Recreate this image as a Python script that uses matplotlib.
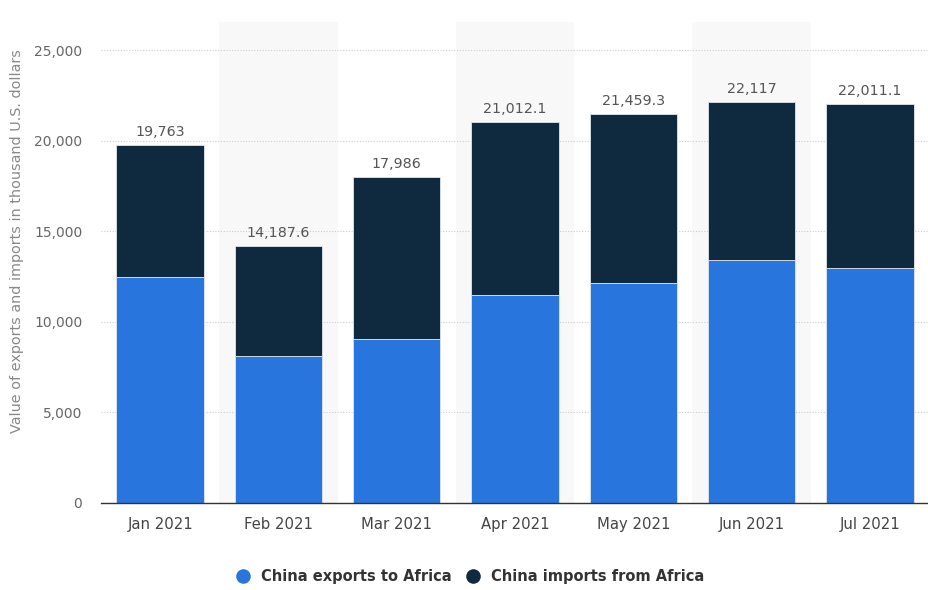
import matplotlib.pyplot as plt
from matplotlib.lines import Line2D
import numpy as np

plt.rcParams['font.family'] = ['DejaVu Sans']

# Data (thousand U.S. dollars)
months = ['Jan 2021', 'Feb 2021', 'Mar 2021', 'Apr 2021', 'May 2021', 'Jun 2021', 'Jul 2021']
totals = [19763, 14187.6, 17986, 21012.1, 21459.3, 22117, 22011.1]
totals_labels = ['19,763', '14,187.6', '17,986', '21,012.1', '21,459.3', '22,117', '22,011.1']
exports = [12480, 8110, 9050, 11480, 12140, 13410, 12970]
imports = [t - e for t, e in zip(totals, exports)]

c_exp = '#2876dd'
c_imp = '#0f2a3f'

fig = plt.figure(figsize=(9.29, 5.90), dpi=100)
ax = fig.add_axes([101/929, 87/590, 828/929, 481/590])

x = np.arange(len(months))

# alternating background bands
for i in x:
    if i % 2 == 1:
        ax.axvspan(i - 0.5, i + 0.5, color='#f8f8f8', zorder=0, lw=0)

ax.bar(x, exports, width=0.74, color=c_exp, edgecolor='#dfe6ee', linewidth=0.6, zorder=3)
ax.bar(x, imports, width=0.74, bottom=exports, color=c_imp, edgecolor='#dfe6ee', linewidth=0.6, zorder=3)

for xi, t, lab in zip(x, totals, totals_labels):
    ax.text(xi, t + 350, lab, ha='center', va='bottom', fontsize=10.3, color='#555555', zorder=4)

ax.set_xlim(-0.5, 6.5)
ax.set_ylim(0, 26550)
ax.set_yticks([0, 5000, 10000, 15000, 20000, 25000])
ax.set_yticklabels(['0', '5,000', '10,000', '15,000', '20,000', '25,000'])
ax.set_xticks(x)
ax.set_xticklabels(months)

ax.yaxis.grid(True, linestyle=(0, (1, 1.5)), color='#cccccc', linewidth=0.8, zorder=1)
ax.set_axisbelow(True)

for s in ['top', 'right', 'left']:
    ax.spines[s].set_visible(False)
ax.spines['bottom'].set_color('#333333')
ax.spines['bottom'].set_linewidth(1.0)
ax.spines['bottom'].set_zorder(5)

ax.tick_params(axis='y', length=0, pad=13.5, labelsize=10, labelcolor='#666666')
ax.tick_params(axis='x', length=0, pad=10, labelsize=10.7, labelcolor='#444444')

fig.text(17/929, (590 - 241)/590, 'Value of exports and imports in thousand U.S. dollars',
         rotation=90, ha='center', va='center', fontsize=10.4, color='#888888')

handles = [Line2D([0], [0], marker='o', color='w', markerfacecolor=c_exp, markersize=11.5, lw=0),
           Line2D([0], [0], marker='o', color='w', markerfacecolor=c_imp, markersize=11.5, lw=0)]
fig.legend(handles, ['China exports to Africa', 'China imports from Africa'],
           loc='center', bbox_to_anchor=(470/929, (590 - 577)/590), ncol=2, frameon=False,
           prop={'weight': 'bold', 'size': 10.5}, labelcolor='#333333',
           handletextpad=0.7, columnspacing=1.0, handlelength=1.0)

plt.savefig('out.png', dpi=100)
